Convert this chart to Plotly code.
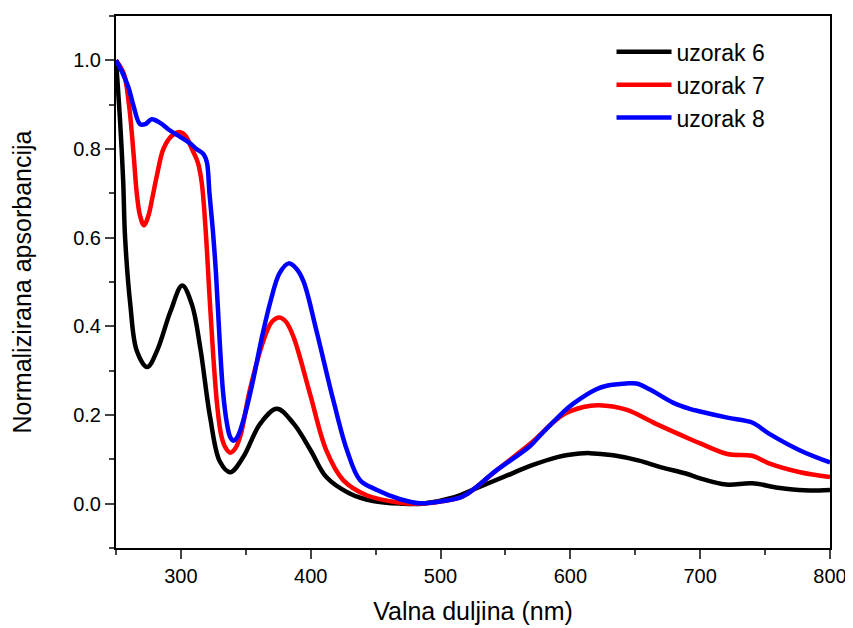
import plotly.graph_objects as go

# uzorak 6
x6 = [250, 253, 255.5, 257, 261, 266, 274, 281.5, 292, 301, 308.5, 315, 322.5, 330, 338, 348, 361, 374, 387, 400, 412, 430, 448, 470, 486, 510, 530, 550, 569, 590, 607, 615, 633, 653, 670, 689, 700, 720, 740, 760, 780, 800]
y6 = [1.0, 0.87, 0.73, 0.6, 0.45, 0.345, 0.308, 0.344, 0.434, 0.492, 0.449, 0.35, 0.195, 0.095, 0.071, 0.105, 0.18, 0.214, 0.18, 0.12, 0.06, 0.023, 0.006, 0.0, 0.0, 0.014, 0.038, 0.062, 0.085, 0.105, 0.113, 0.114, 0.109, 0.097, 0.082, 0.068, 0.057, 0.043, 0.046, 0.036, 0.03, 0.031]

# uzorak 7
x7 = [250, 256, 260, 263.5, 266, 268.5, 271.5, 275, 278, 281.5, 286.5, 293, 299.5, 303.5, 308.5, 313, 316, 319, 322, 325, 328, 331, 334, 338, 342, 346, 353, 363.5, 370, 376, 381, 387, 399.5, 412, 425, 443, 469, 484, 500, 517, 543, 569, 594, 610, 622, 643, 666, 692, 700, 721, 740, 753, 777, 800]
y7 = [1.0, 0.97, 0.9, 0.79, 0.7, 0.65, 0.628, 0.65, 0.69, 0.74, 0.8, 0.83, 0.838, 0.83, 0.8, 0.77, 0.725, 0.62, 0.47, 0.33, 0.22, 0.155, 0.128, 0.115, 0.125, 0.155, 0.255, 0.367, 0.41, 0.42, 0.41, 0.374, 0.247, 0.12, 0.053, 0.019, 0.002, 0.0, 0.005, 0.016, 0.075, 0.135, 0.2, 0.218, 0.222, 0.212, 0.18, 0.146, 0.136, 0.112, 0.108, 0.091, 0.071, 0.06]

# uzorak 8
x8 = [250, 254.5, 259.5, 263.5, 268.5, 272.5, 277.5, 284, 290.5, 298, 306, 312, 317.5, 320, 322, 324.5, 327, 330, 332.5, 335.5, 338, 340.5, 343, 346, 351, 356, 362, 369, 376, 383, 389, 394.5, 404.5, 417.5, 428, 438, 451, 469, 484, 500, 517, 543, 569, 577, 594, 602, 620, 628, 643, 651, 661, 679, 692, 700, 721, 740, 753, 777, 800]
y8 = [1.0, 0.975, 0.94, 0.897, 0.856, 0.856, 0.867, 0.859, 0.844, 0.83, 0.815, 0.8, 0.788, 0.77, 0.7, 0.62, 0.52, 0.36, 0.25, 0.18, 0.15, 0.142, 0.148, 0.168, 0.22, 0.284, 0.37, 0.456, 0.52, 0.542, 0.53, 0.501, 0.389, 0.232, 0.12, 0.053, 0.031, 0.01, 0.001, 0.005, 0.016, 0.075, 0.13, 0.155, 0.205, 0.225, 0.258, 0.266, 0.271, 0.271, 0.258, 0.228, 0.214, 0.208, 0.194, 0.183, 0.158, 0.12, 0.093]

names = ["uzorak 6", "uzorak 7", "uzorak 8"]
colors = ["#000000", "#ff0000", "#0000ff"]

fig = go.Figure()
for xs, ys, n, c in zip([x6, x7, x8], [y6, y7, y8], names, colors):
    fig.add_trace(go.Scatter(x=xs, y=ys, mode="lines", name=n,
                             line=dict(color=c, width=4.5, shape="spline", smoothing=1.0)))

font = "Liberation Sans, Arial, sans-serif"
fig.update_layout(
    width=845, height=620,
    margin=dict(l=108, r=22, t=6, b=80),
    paper_bgcolor="white", plot_bgcolor="white",
    font=dict(family=font, color="black"),
    showlegend=True,
    legend=dict(x=0.694, y=0.973, xanchor="left", yanchor="top",
                font=dict(size=23, family=font), itemwidth=55,
                bgcolor="rgba(0,0,0,0)", borderwidth=0, tracegroupgap=0),
    xaxis=dict(range=[250, 800], tick0=0, dtick=100, ticks="outside", ticklen=9, tickwidth=1.5,
               showline=True, linecolor="black", linewidth=2, mirror=True,
               showgrid=False, zeroline=False,
               tickfont=dict(size=20),
               minor=dict(dtick=50, ticks="outside", ticklen=5, tickwidth=1.5, showgrid=False),
               title=dict(text="Valna duljina (nm)", font=dict(size=25), standoff=16)),
    yaxis=dict(range=[-0.1, 1.1], tick0=0, dtick=0.2, tickformat=".1f", ticks="outside", ticklen=9, tickwidth=1.5,
               showline=True, linecolor="black", linewidth=2, mirror=True,
               showgrid=False, zeroline=False,
               tickfont=dict(size=20),
               minor=dict(dtick=0.1, ticks="outside", ticklen=5, tickwidth=1.5, showgrid=False),
               title=dict(text="Normalizirana apsorbancija", font=dict(size=25), standoff=36)),
)

fig.write_html("out.html")
